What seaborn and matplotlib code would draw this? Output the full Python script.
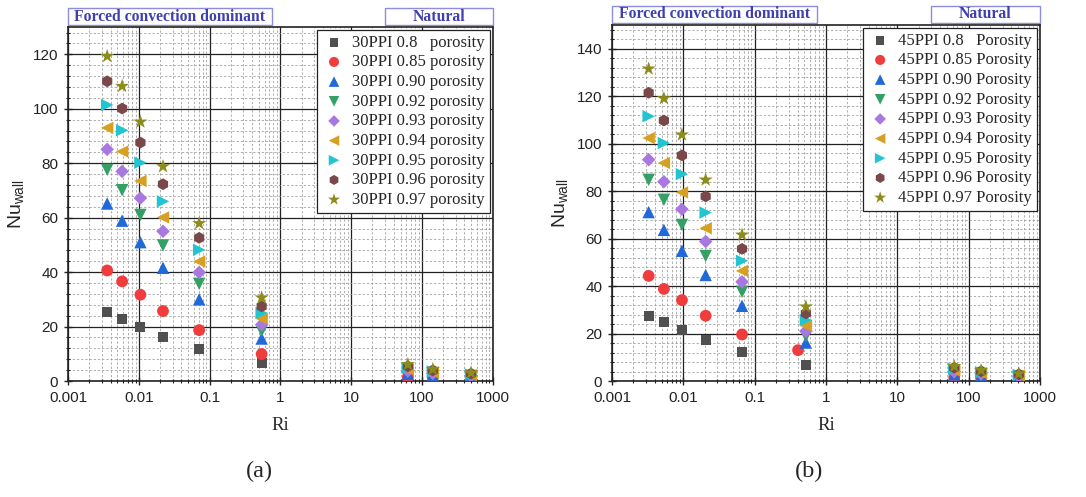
import numpy as np
import pandas as pd
import matplotlib
matplotlib.use("Agg")
import matplotlib.pyplot as plt
import seaborn as sns
from matplotlib.ticker import LogLocator, MultipleLocator, NullFormatter, FixedLocator, FixedFormatter
from matplotlib.patches import Rectangle

sns.set_style("white")
plt.rcParams["font.family"] = ["Liberation Sans", "DejaVu Sans"]
plt.rcParams["mathtext.fontset"] = "custom"
plt.rcParams["mathtext.rm"] = "Liberation Sans"
plt.rcParams["mathtext.it"] = "Liberation Sans:italic"

# ---------------- data ----------------
# (a) 30 PPI
ri_30 = [0.00358, 0.00582, 0.01055, 0.022, 0.0714, 0.545, 63.5, 143, 495]
nu_30 = {
    "0.8":  [25.4, 22.9, 19.9, 16.2, 11.6, 6.5, 1.0, 0.8, 0.6],
    "0.85": [40.6, 36.6, 31.7, 25.7, 18.7, 9.9, 1.5, 1.2, 0.9],
    "0.90": [65.2, 58.9, 51.0, 41.6, 30.0, 15.6, 2.6, 2.0, 1.4],
    "0.92": [77.6, 70.1, 61.0, 49.8, 35.7, 18.4, 3.2, 2.5, 1.7],
    "0.93": [85.1, 77.0, 67.2, 55.0, 39.9, 20.7, 3.7, 2.8, 1.9],
    "0.94": [93.0, 84.3, 73.5, 60.1, 43.9, 22.9, 4.3, 3.2, 2.2],
    "0.95": [101.4, 92.1, 80.2, 66.0, 48.2, 25.0, 4.8, 3.5, 2.4],
    "0.96": [110.1, 100.1, 87.6, 72.3, 52.6, 27.4, 5.4, 3.9, 2.7],
    "0.97": [119.3, 108.3, 95.2, 78.8, 57.9, 30.6, 6.1, 4.3, 3.0],
}

# (b) 45 PPI
ri_45 = [0.00327, 0.00535, 0.00958, 0.0206, 0.0667, 0.524, 63, 150, 507]
ri_45_085 = [0.00327, 0.00535, 0.00958, 0.0206, 0.0667, 0.407, 63, 150, 507]
nu_45 = {
    "0.8":  [27.5, 24.7, 21.4, 17.2, 12.3, 6.9, 1.1, 0.9, 0.6],
    "0.85": [44.3, 38.8, 34.1, 27.5, 19.6, 13.0, 1.6, 1.3, 0.9],
    "0.90": [71.2, 63.7, 54.9, 44.7, 31.7, 16.2, 2.8, 2.1, 1.5],
    "0.92": [84.8, 76.4, 65.8, 52.7, 37.6, 18.9, 3.4, 2.6, 1.8],
    "0.93": [93.3, 84.0, 72.4, 58.8, 41.8, 21.0, 3.9, 3.0, 2.0],
    "0.94": [102.4, 91.9, 79.5, 64.4, 46.4, 23.3, 4.5, 3.4, 2.3],
    "0.95": [111.6, 100.3, 87.2, 71.0, 50.7, 25.7, 5.1, 3.7, 2.6],
    "0.96": [121.5, 109.8, 95.1, 77.8, 55.7, 28.5, 5.6, 4.1, 2.8],
    "0.97": [131.6, 119.1, 103.8, 84.8, 61.6, 31.3, 6.2, 4.5, 3.1],
}

series_keys = ["0.8", "0.85", "0.90", "0.92", "0.93", "0.94", "0.95", "0.96", "0.97"]
colors = ["#505050", "#f03c3c", "#2168d8", "#35a065", "#a878e0",
          "#d8a020", "#22c4d2", "#7a4848", "#8c8c1c"]
markers = ["s", "o", "^", "v", "D", "<", ">", "h", "*"]
sizes = [52, 72, 80, 80, 48, 80, 80, 72, 115]

x_ticks = [0.001, 0.01, 0.1, 1, 10, 100, 1000]
x_ticklabels = ["0.001", "0.01", "0.1", "1", "10", "100", "1000"]

TEXT_BLUE = "#3f3fb0"
BOX_EDGE = "#8c8ce0"


def draw_panel(ax, ri, nu, prefix, word, ymax, ystep, ri_red=None):
    for i, key in enumerate(series_keys):
        xs = ri_red if (ri_red is not None and key == "0.85") else ri
        df = pd.DataFrame({"Ri": xs, "Nu": nu[key]})
        pad = "   " if key == "0.8" else " "
        sns.scatterplot(data=df, x="Ri", y="Nu", ax=ax, marker=markers[i],
                        color=colors[i], s=sizes[i], edgecolor="none",
                        label=f"{prefix} {key}{pad}{word}", zorder=3 + i * 0.01)
    ax.set_xscale("log")
    ax.set_xlim(0.001, 1000)
    ax.set_ylim(0, ymax)

    ax.xaxis.set_major_locator(FixedLocator(x_ticks))
    ax.xaxis.set_major_formatter(FixedFormatter(x_ticklabels))
    ax.xaxis.set_minor_locator(LogLocator(base=10, subs=np.arange(2, 10), numticks=20))
    ax.xaxis.set_minor_formatter(NullFormatter())
    ax.yaxis.set_major_locator(MultipleLocator(ystep))
    ax.yaxis.set_minor_locator(MultipleLocator(ystep / 5))

    ax.grid(True, which="major", color="#222222", lw=0.9, ls="-", zorder=0)
    ax.grid(True, which="minor", color="#9a9a9a", lw=0.55, ls=(0, (3, 2.5)), zorder=0)
    ax.set_axisbelow(True)

    for s in ax.spines.values():
        s.set_color("#222222")
        s.set_linewidth(1.2)
    ax.tick_params(axis="both", which="major", direction="inout", length=6,
                   width=1, labelsize=11, bottom=True, left=True, pad=4,
                   colors="#222222", labelcolor="#222222")
    ax.tick_params(axis="both", which="minor", direction="inout", length=3.5,
                   width=0.8, bottom=True, left=True, colors="#222222")

    ax.set_xlabel("Ri", family=["Liberation Serif"], fontsize=13.5, labelpad=9)
    ax.set_ylabel(r"Nu$_{\rm wall}$", fontsize=14, labelpad=5)

    leg = ax.legend(loc="upper right", frameon=True, fancybox=False,
                    framealpha=1, edgecolor="#222222", borderaxespad=0.15,
                    handletextpad=0.35, labelspacing=0.22, borderpad=0.3,
                    handlelength=1.5, markerscale=0.85,
                    prop={"family": "Liberation Serif", "size": 12.0})
    leg.get_frame().set_linewidth(0.9)
    leg.set_zorder(10)

    # regime boxes above the plot area
    for (x0, x1, txt) in [(0.0, 0.48, "Forced convection dominant"),
                          (0.746, 1.0, "Natural")]:
        ax.add_patch(Rectangle((x0, 1.006), x1 - x0, 0.048, transform=ax.transAxes,
                               fill=False, edgecolor=BOX_EDGE, lw=1.0, clip_on=False))
        ax.text((x0 + x1) / 2, 1.030, txt, transform=ax.transAxes, ha="center",
                va="center", color=TEXT_BLUE, fontsize=11.3, fontweight="bold",
                family=["Liberation Serif"])


fig = plt.figure(figsize=(10.86, 4.97), dpi=100)
ax_a = fig.add_axes([0.0626, 0.2334, 0.391, 0.712])
ax_b = fig.add_axes([0.5635, 0.2334, 0.394, 0.716])

draw_panel(ax_a, ri_30, nu_30, "30PPI", "porosity", 130, 20)
draw_panel(ax_b, ri_45, nu_45, "45PPI", "Porosity", 150, 20, ri_red=ri_45_085)

fig.text(0.239, 0.052, "(a)", ha="center", va="center", fontsize=17.5,
         family=["Liberation Serif"])
fig.text(0.745, 0.052, "(b)", ha="center", va="center", fontsize=17.5,
         family=["Liberation Serif"])

fig.savefig("out.png", dpi=100, facecolor="white")
